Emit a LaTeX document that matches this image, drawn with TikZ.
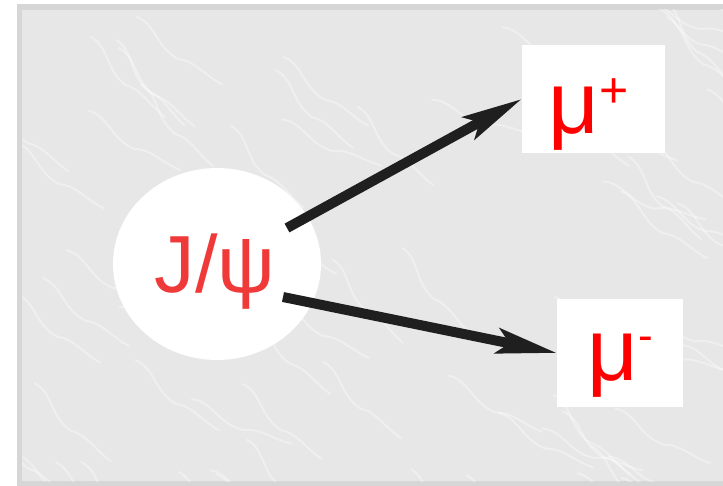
\documentclass[tikz,border=0pt]{standalone}
\usepackage{fontspec}
\setmainfont{Liberation Sans}
\usepackage{tikz}
\usetikzlibrary{arrows.meta,positioning,shapes.geometric}
\definecolor{marble}{RGB}{231,231,231}
\definecolor{framegray}{RGB}{214,214,214}
\definecolor{jred}{RGB}{240,58,58}
\definecolor{mured}{RGB}{255,0,0}

\begin{document}
\begin{tikzpicture}[x=1pt,y=-1pt,
		particle/.style={fill=white,inner sep=0pt},
		bigtext/.style={font=\fontsize{88}{96}\selectfont,anchor=base},
		decay/.style={line width=10pt,black!88,-{Stealth[length=60pt,width=25pt,inset=12pt]}}]
			\useasboundingbox (0,0) rectangle (723,486);
			
			% background with frame
			\fill[framegray] (17,4) rectangle (723,486);
			\fill[marble] (22,10) rectangle (723,481);
			\begin{scope}
				\clip (22,10) rectangle (723,481);
				\pgfmathsetseed{12}
				\foreach \i in {1,...,70}{
					\pgfmathsetmacro{\vx}{rnd*760-20}
					\pgfmathsetmacro{\vy}{rnd*500-10}
					\pgfmathsetmacro{\va}{-20-rnd*35}
					\draw[white,opacity=0.35,line width=2pt,rotate around={\va:(\vx,\vy)}]
					(\vx,\vy) .. controls +(20,-8) and +(-25,6) .. +(60,4)
					.. controls +(15,-10) and +(-20,5) .. +(110,-6);
				}
			\end{scope}
			
			% particles
			\node[particle,ellipse,minimum width=208pt,minimum height=192pt] (jpsi) at (217,264) {};
			\node[bigtext,text=jred,font=\fontsize{81}{96}\selectfont] (jpsilabel) at (215,293) {J/ψ};
			
			\node[particle,rectangle,minimum width=143pt,minimum height=108pt] (muplus) at (593.5,99) {};
			\node[bigtext,text=mured,anchor=base west] (mupluslabel) at (545,134)
			{μ\raisebox{26pt}{\fontsize{50}{50}\selectfont +}};
			
			\node[particle,rectangle,minimum width=126pt,minimum height=108pt] (muminus) at (620,353) {};
			\node[bigtext,text=mured,anchor=base west] (muminuslabel) at (584,381)
			{μ\raisebox{31pt}{\fontsize{44}{44}\selectfont -}};
			
			% decay products
			\coordinate (upstart) at (287,228);
			\coordinate (downstart) at (283,297);
			\draw[decay] (upstart) -- (muplus.west);
			\draw[decay] (downstart) -- (muminus.west);
		\end{tikzpicture}
\end{document}
